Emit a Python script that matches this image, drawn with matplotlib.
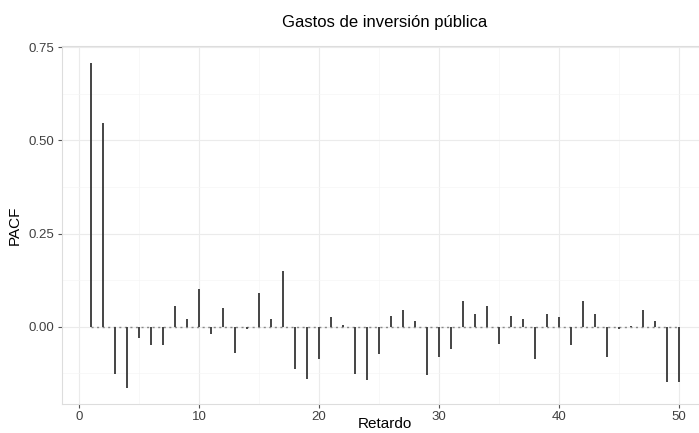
import numpy as np
import matplotlib.pyplot as plt

retardos = list(range(1, 51))
pacf = [0.708, 0.547, -0.126, -0.163, -0.030, -0.050, -0.050, 0.055, 0.020, 0.100,
        -0.020, 0.050, -0.070, -0.005, 0.090, 0.020, 0.150, -0.113, -0.140, -0.086,
        0.025, 0.005, -0.126, -0.142, -0.072, 0.028, 0.046, 0.015, -0.129, -0.081,
        -0.059, 0.070, 0.035, 0.057, -0.046, 0.030, 0.020, -0.086, 0.035, 0.025,
        -0.049, 0.070, 0.035, -0.080, -0.005, 0.003, 0.046, 0.015, -0.147, -0.147]

plt.rcParams['font.family'] = ['Liberation Sans', 'DejaVu Sans']

fig = plt.figure(figsize=(6.99, 4.33), dpi=100)
ax = fig.add_axes([0.0881, 0.067, 0.9253, 0.826])

ax.vlines(retardos, 0, pacf, color='#444444', linewidth=1.4, zorder=3)
ax.plot(retardos, [0] * len(retardos), color='#888888', linestyle=(0, (1.5, 2.5)), linewidth=1.0, zorder=2)

ax.set_xlim(-1.45, 52.45)
ax.set_ylim(-0.207, 0.752)
ax.set_xticks([0, 10, 20, 30, 40, 50])
ax.set_xticks([5, 15, 25, 35, 45], minor=True)
ax.set_yticks([0.0, 0.25, 0.5, 0.75])
ax.set_yticklabels(['0.00', '0.25', '0.50', '0.75'])
ax.set_yticks([-0.125, 0.125, 0.375, 0.625], minor=True)
ax.grid(True, which='major', color='#EBEBEB', linewidth=0.8)
ax.grid(True, which='minor', color='#F5F5F5', linewidth=0.5)
ax.set_axisbelow(True)
for s in ax.spines.values():
    s.set_color('#DDDDDD')
    s.set_linewidth(0.8)
ax.tick_params(which='major', length=3, color='#555555', labelsize=9.5, labelcolor='#404040', pad=2)
ax.tick_params(which='minor', length=0)

ax.set_title('Gastos de inversión pública', fontsize=12, pad=14)
ax.set_xlabel('Retardo', fontsize=11)
ax.xaxis.set_label_coords(0.5, -0.036)
ax.set_ylabel('PACF', fontsize=11)
ax.yaxis.set_label_coords(-0.062, 0.5)

fig.savefig('out.png', dpi=100)
